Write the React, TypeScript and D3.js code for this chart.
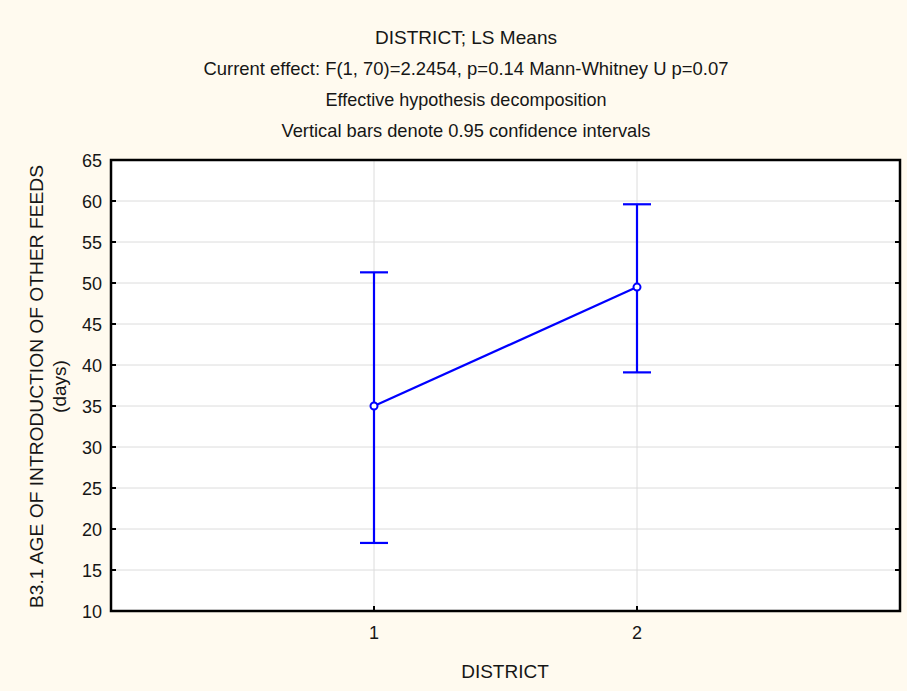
import React from "react";
import * as d3 from "d3";

// chart data
const districts = [1, 2];
const means = [35.0, 49.5];
const upperCI = [51.3, 59.6];
const lowerCI = [18.3, 39.1];
const yTicks = [10, 15, 20, 25, 30, 35, 40, 45, 50, 55, 60, 65];
const titleLines = [
  "DISTRICT; LS Means",
  "Current effect: F(1, 70)=2.2454, p=0.14 Mann-Whitney U p=0.07",
  "Effective hypothesis decomposition",
  "Vertical bars denote 0.95 confidence intervals",
];
const titleWidths = [182, 525, 281, 369];

const App = () => {
  const w = 907;
  const h = 691;
  const left = 111;
  const right = 900;
  const top = 160;
  const bottom = 611;
  const font = "'Liberation Sans', Arial, sans-serif";
  const blue = "#0000ff";
  const ink = "#161616";

  const x = d3.scaleLinear().domain([0, 3]).range([left, right]);
  const y = d3.scaleLinear().domain([10, 65]).range([bottom, top]);

  const line = d3
    .line<number>()
    .x((d, i) => x(districts[i]))
    .y((d) => y(d));

  return (
    <div style={{ position: "fixed", top: 0, left: 0 }}>
      <svg width={w} height={h} style={{ display: "block" }}>
        <rect width={w} height={h} fill="#fffaef" />
        {titleLines.map((t, i) => (
          <text
            key={i}
            x={466}
            y={43.5 + i * 31.3}
            textAnchor="middle"
            fontFamily={font}
            fontSize={19}
            textLength={titleWidths[i]}
            lengthAdjust="spacingAndGlyphs"
            fill={ink}
          >
            {t}
          </text>
        ))}
        <rect x={left} y={top} width={right - left} height={bottom - top} fill="#fff" />
        {/* grid */}
        {yTicks.map((t) => (
          <line key={"g" + t} x1={left} x2={right} y1={y(t)} y2={y(t)} stroke="#dcdcdc" strokeWidth={1} />
        ))}
        {districts.map((d) => (
          <line key={"gx" + d} x1={x(d)} x2={x(d)} y1={top} y2={bottom} stroke="#dcdcdc" strokeWidth={1} />
        ))}
        {/* ticks */}
        {yTicks.map((t) => (
          <g key={"t" + t}>
            <line x1={left} x2={left + 5} y1={y(t)} y2={y(t)} stroke="#000" strokeWidth={2} />
            <line x1={right - 5} x2={right} y1={y(t)} y2={y(t)} stroke="#000" strokeWidth={2} />
            <text
              x={102}
              y={y(t) + 7}
              textAnchor="end"
              fontFamily={font}
              fontSize={18}
              fill={ink}
            >
              {t}
            </text>
          </g>
        ))}
        {districts.map((d) => (
          <g key={"xt" + d}>
            <line x1={x(d)} x2={x(d)} y1={bottom - 5} y2={bottom} stroke="#000" strokeWidth={2} />
            <text x={x(d)} y={639} textAnchor="middle" fontFamily={font} fontSize={18} fill={ink}>
              {d}
            </text>
          </g>
        ))}
        <rect
          x={left}
          y={top}
          width={right - left}
          height={bottom - top}
          fill="none"
          stroke="#000"
          strokeWidth={2.5}
        />
        {/* error bars */}
        {districts.map((d, i) => (
          <g key={"e" + d} stroke={blue} strokeWidth={2.2}>
            <line x1={x(d)} x2={x(d)} y1={y(upperCI[i])} y2={y(lowerCI[i])} />
            <line x1={x(d) - 14} x2={x(d) + 14} y1={y(upperCI[i])} y2={y(upperCI[i])} />
            <line x1={x(d) - 14} x2={x(d) + 14} y1={y(lowerCI[i])} y2={y(lowerCI[i])} />
          </g>
        ))}
        <path d={line(means) || ""} fill="none" stroke={blue} strokeWidth={2.2} />
        {means.map((m, i) => (
          <circle key={"p" + i} cx={x(districts[i])} cy={y(m)} r={3.5} fill="#fff" stroke={blue} strokeWidth={2} />
        ))}
        {/* axis labels */}
        <text x={505} y={678} textAnchor="middle" fontFamily={font} fontSize={19} fill={ink}>
          DISTRICT
        </text>
        <text
          transform={`translate(43, ${(top + bottom) / 2 + 1}) rotate(-90)`}
          textAnchor="middle"
          fontFamily={font}
          fontSize={19}
          textLength={443}
          lengthAdjust="spacingAndGlyphs"
          fill={ink}
        >
          B3.1 AGE OF INTRODUCTION OF OTHER FEEDS
        </text>
        <text
          transform={`translate(66, ${(top + bottom) / 2 + 1}) rotate(-90)`}
          textAnchor="middle"
          fontFamily={font}
          fontSize={19}
          fill={ink}
        >
          (days)
        </text>
      </svg>
    </div>
  );
};

export default App;
